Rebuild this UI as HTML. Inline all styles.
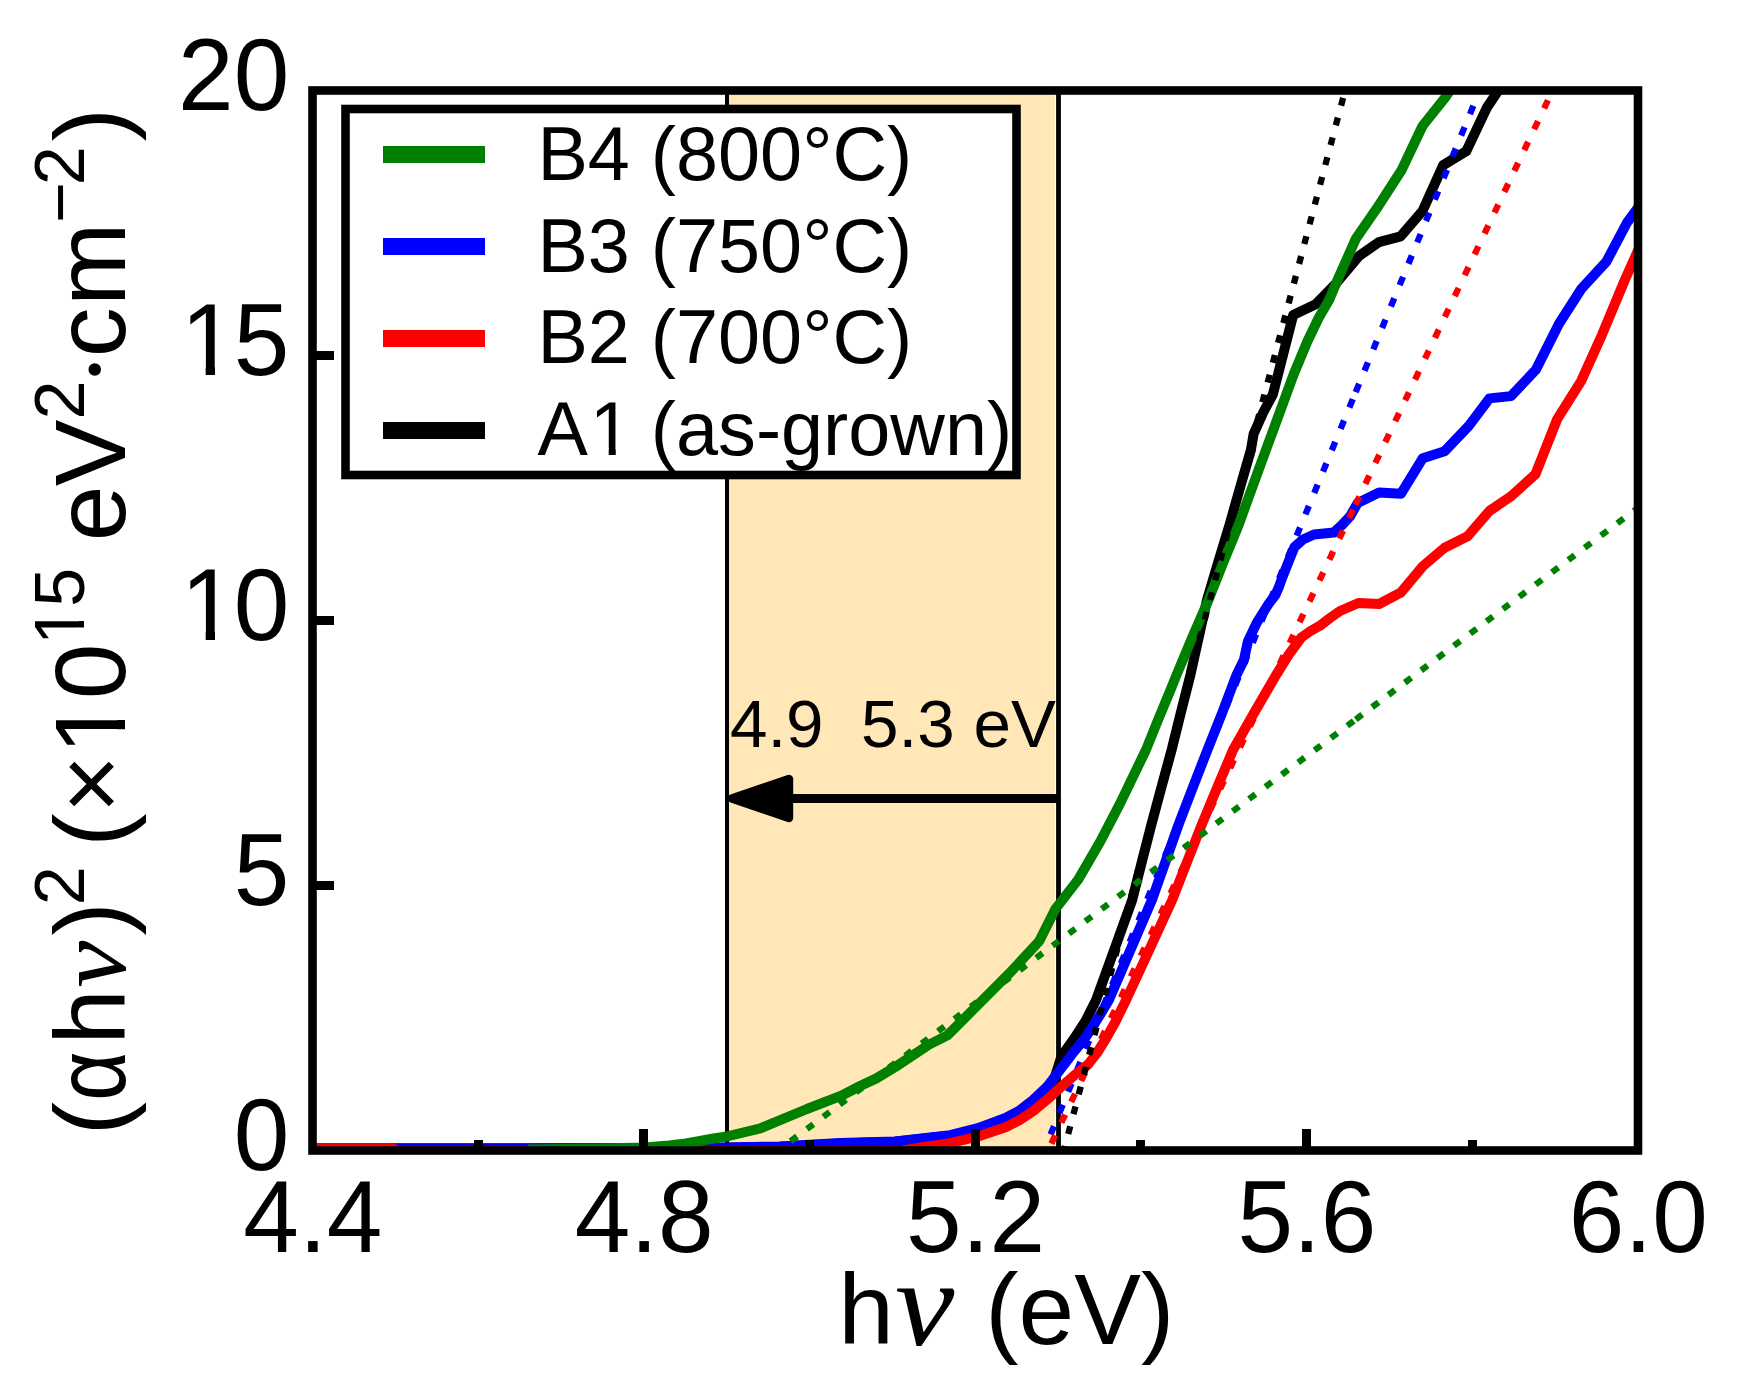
<!DOCTYPE html>
<html lang="en"><head><meta charset="utf-8"><title>Tauc plot</title>
<style>html,body{margin:0;padding:0;background:#fff}svg{display:block}text{font-family:"Liberation Sans",sans-serif;fill:#000;font-kerning:none;white-space:pre}.nu{font-family:"Liberation Serif",serif;font-style:italic}.dot{font-family:"Liberation Serif",serif}</style></head><body>
<svg width="1740" height="1400" viewBox="0 0 1740 1400">
<rect x="0" y="0" width="1740" height="1400" fill="#fff"/>
<defs><clipPath id="ax"><rect x="312.5" y="90.5" width="1325.5" height="1060.0"/></clipPath></defs>
<g clip-path="url(#ax)">
<rect x="727.0" y="90.5" width="327.79999999999995" height="1060.0" fill="#ffe7b7"/>
<rect x="725.0" y="90.5" width="4" height="1060.0" fill="#000" shape-rendering="crispEdges"/>
<rect x="1056.1" y="90.5" width="4.8" height="1060.0" fill="#000"/>
<path d="M312.0 1148.6L700.0 1148.3L780.0 1146.8L840.0 1143.5L895.0 1141.8L950.3 1135.6L977.9 1129.0L1005.5 1119.5L1019.3 1113.2L1033.1 1103.5L1046.9 1089.5L1054.0 1080.0L1061.4 1056.5L1075.2 1037.0L1085.5 1021.0L1096.1 1000.0L1114.2 950.0L1132.2 900.0L1141.8 862.0L1151.3 825.0L1161.5 787.0L1171.6 750.0L1181.0 712.0L1190.4 675.0L1198.8 637.0L1207.0 600.0L1218.3 562.0L1229.5 525.0L1240.2 487.0L1250.9 450.0L1253.6 434.0L1263.2 412.5L1272.9 394.3L1283.5 353.0L1293.2 315.0L1315.7 304.3L1335.0 284.6L1358.8 256.2L1378.9 242.1L1400.7 236.3L1422.5 211.0L1443.2 165.1L1466.2 151.3L1486.9 107.6L1500.0 88.0" fill="none" stroke="#000000" stroke-width="10.0" stroke-linejoin="round" stroke-linecap="butt"/>
<path d="M312.0 1148.3L700.0 1148.0L780.0 1146.5L840.0 1143.1L895.0 1141.4L950.3 1135.1L977.9 1128.2L1005.5 1117.9L1019.3 1110.7L1033.1 1100.0L1046.9 1087.0L1060.7 1069.0L1074.5 1051.0L1085.5 1037.5L1095.0 1023.0L1103.0 1010.0L1108.9 1000.0L1130.4 950.0L1151.9 900.0L1165.0 863.0L1178.4 825.0L1193.0 787.0L1207.4 750.0L1222.5 712.0L1236.5 675.0L1243.9 660.0L1247.9 641.4L1256.7 622.9L1268.3 604.3L1275.4 595.0L1279.4 585.7L1282.7 576.4L1286.4 567.1L1290.1 557.9L1294.5 547.0L1303.0 539.5L1314.0 534.5L1333.9 532.5L1342.0 525.0L1350.0 516.4L1357.7 502.9L1379.1 492.6L1400.9 493.8L1422.8 458.2L1444.6 451.3L1468.7 426.0L1489.4 398.4L1511.0 396.1L1536.0 369.6L1559.0 323.7L1581.1 289.2L1606.4 261.6L1627.1 222.5L1640.0 205.0" fill="none" stroke="#0000ff" stroke-width="10.0" stroke-linejoin="round" stroke-linecap="butt"/>
<path d="M1033.0 1177.3L1355.4 392.8" fill="none" stroke="#0000ff" stroke-width="6.3" stroke-dasharray="9.0 14.12"/>
<path d="M1355.7 392.1L1500.0 40.9" fill="none" stroke="#0000ff" stroke-width="6.3" stroke-dasharray="9.0 14.12"/>
<path d="M312.0 1148.3L393.0 1148.3L396.0 1151.0L900.0 1151.0L922.8 1147.2L950.3 1143.1L977.9 1136.5L1005.5 1127.2L1019.3 1120.3L1033.1 1111.1L1046.9 1099.7L1060.7 1087.2L1074.5 1075.2L1088.0 1064.5L1097.0 1053.0L1106.0 1038.5L1115.0 1022.5L1126.1 1000.0L1140.0 970.0L1153.8 940.0L1172.2 900.0L1187.0 862.0L1201.6 825.0L1217.0 788.0L1233.0 750.0L1254.0 713.0L1276.1 675.0L1288.5 655.0L1301.3 637.5L1310.5 631.0L1320.0 625.7L1330.0 618.0L1340.0 611.0L1358.4 603.0L1379.1 604.0L1400.9 592.5L1422.8 566.2L1444.6 547.8L1467.6 536.3L1489.4 511.0L1511.3 496.1L1535.4 474.3L1557.2 419.1L1581.1 381.1L1601.8 335.2L1624.8 280.0L1640.0 246.0" fill="none" stroke="#ff0000" stroke-width="10.0" stroke-linejoin="round" stroke-linecap="butt"/>
<path d="M1031.5 1185.3L1355.4 504.8" fill="none" stroke="#ff0000" stroke-width="6.3" stroke-dasharray="9.0 14.10"/>
<path d="M1355.5 504.7L1570.0 53.9" fill="none" stroke="#ff0000" stroke-width="6.3" stroke-dasharray="9.0 14.10"/>
<path d="M528.0 1149.5L600.0 1148.5L644.8 1147.5L669.0 1145.5L686.0 1143.5L700.0 1141.0L712.0 1138.7L726.7 1136.5L760.3 1128.3L806.9 1109.0L841.4 1095.7L860.0 1086.0L875.9 1078.6L895.2 1067.0L929.0 1044.6L947.4 1035.4L975.0 1007.8L1009.4 973.3L1039.3 941.1L1055.4 909.0L1078.4 879.3L1100.0 842.0L1120.0 803.6L1145.9 750.0L1158.0 720.0L1170.0 691.1L1176.5 675.0L1192.0 638.0L1208.5 600.0L1223.5 562.0L1238.6 525.0L1252.0 488.0L1265.9 450.0L1279.5 413.0L1293.4 375.0L1307.1 342.0L1318.6 318.0L1329.1 300.0L1337.5 280.0L1355.9 238.6L1376.6 208.7L1401.8 169.7L1422.5 126.0L1445.5 97.2L1453.0 86.0" fill="none" stroke="#008000" stroke-width="10.0" stroke-linejoin="round" stroke-linecap="butt"/>
<path d="M774.2 1153.4L1355.4 719.7" fill="none" stroke="#008000" stroke-width="6.3" stroke-dasharray="8.0 12.43"/>
<path d="M1355.8 719.4L1645.0 502.5" fill="none" stroke="#008000" stroke-width="6.3" stroke-dasharray="8.0 12.43"/>
<path d="M1057.7 1173.5L1350.0 72.0" fill="none" stroke="#000000" stroke-width="6.3" stroke-dasharray="8.0 12.46"/>
</g>
<rect x="760" y="794.0" width="298" height="9" fill="#000" shape-rendering="crispEdges"/>
<path d="M731.8 798.5L789 778.9L789 818.1Z" fill="#000" stroke="#000" stroke-width="8.4" stroke-linejoin="round"/>
<text transform="translate(729.90 747.00)" font-size="67.4">4.9  5.3 eV</text>
<g fill="#000" shape-rendering="crispEdges">
<rect x="639.4" y="1129.0" width="9" height="21.5"/>
<rect x="970.7" y="1129.0" width="9" height="21.5"/>
<rect x="1302.1" y="1129.0" width="9" height="21.5"/>
<rect x="473.7" y="1139.9" width="9" height="10.6"/>
<rect x="805.1" y="1139.9" width="9" height="10.6"/>
<rect x="1136.4" y="1139.9" width="9" height="10.6"/>
<rect x="1467.8" y="1139.9" width="9" height="10.6"/>
<rect x="312.5" y="881.0" width="21.5" height="9"/>
<rect x="312.5" y="616.0" width="21.5" height="9"/>
<rect x="312.5" y="351.0" width="21.5" height="9"/>
</g>
<rect x="312.5" y="90.5" width="1325.5" height="1060.0" fill="none" stroke="#000" stroke-width="8.6" stroke-linejoin="miter"/>
<rect x="345.5" y="109.0" width="671.0" height="366.0" fill="#fff" stroke="#000" stroke-width="8.6"/>
<rect x="383" y="146.0" width="102" height="17" fill="#008000" shape-rendering="crispEdges"/>
<text transform="translate(537.40 180.00)" font-size="75.6">B4 (800°C)</text>
<rect x="383" y="238.0" width="102" height="17" fill="#0000ff" shape-rendering="crispEdges"/>
<text transform="translate(537.40 272.00)" font-size="75.6">B3 (750°C)</text>
<rect x="383" y="329.5" width="102" height="17" fill="#ff0000" shape-rendering="crispEdges"/>
<text transform="translate(537.40 363.30)" font-size="75.6">B2 (700°C)</text>
<rect x="383" y="421.5" width="102" height="17" fill="#000000" shape-rendering="crispEdges"/>
<clipPath id="k1"><path clip-rule="evenodd" d="M-22.7 -83.2H497.4V37.8H-22.7ZM57.00 -6.65H71.29V2.27H57.00ZM78.36 -6.65H92.16V2.27H78.36Z"/></clipPath><text transform="translate(537.40 454.50)" font-size="75.6" clip-path="url(#k1)">A<tspan x="52.47">1</tspan><tspan x="92.47"> (as-grown)</tspan></text>
<text transform="translate(243.29 1251.80) scale(1.0 1.025)" font-size="100">4.4</text>
<text transform="translate(574.67 1251.80) scale(1.0 1.025)" font-size="100">4.8</text>
<text transform="translate(906.04 1251.80) scale(1.0 1.025)" font-size="100">5.2</text>
<text transform="translate(1237.42 1251.80) scale(1.0 1.025)" font-size="100">5.6</text>
<text transform="translate(1568.79 1251.80) scale(1.0 1.025)" font-size="100">6.0</text>
<text transform="translate(233.68 1170.10) scale(1.0 1.025)" font-size="100">0</text>
<text transform="translate(233.68 905.10) scale(1.0 1.025)" font-size="100">5</text>
<clipPath id="k2"><path clip-rule="evenodd" d="M-30.0 -110.0H141.2V50.0H-30.0ZM8.70 -8.80H27.60V3.00H8.70ZM36.95 -8.80H55.20V3.00H36.95Z"/></clipPath><text transform="translate(178.07 640.10) scale(1.0 1.025)" font-size="100" clip-path="url(#k2)"><tspan x="2.70">1</tspan><tspan x="55.62">0</tspan></text>
<clipPath id="k3"><path clip-rule="evenodd" d="M-30.0 -110.0H141.2V50.0H-30.0ZM8.70 -8.80H27.60V3.00H8.70ZM36.95 -8.80H55.20V3.00H36.95Z"/></clipPath><text transform="translate(178.07 375.10) scale(1.0 1.025)" font-size="100" clip-path="url(#k3)"><tspan x="2.70">1</tspan><tspan x="55.62">5</tspan></text>
<text transform="translate(178.07 110.10) scale(1.0 1.025)" font-size="100">20</text>
<text x="838.3" y="1344" font-size="100">h<tspan class="nu" x="895.0" y="1345.1" font-size="122.2" textLength="59.3" lengthAdjust="spacingAndGlyphs">ν</tspan><tspan> </tspan><tspan x="985.3" y="1344">(eV)</tspan></text>
<clipPath id="k4"><path clip-rule="evenodd" d="M-1300.0 -20.0H0.0V260.0H-1300.0ZM-748.22 115.90H-729.32V127.70H-748.22ZM-719.97 115.90H-701.72V127.70H-719.97ZM-640.83 77.84H-627.60V86.10H-640.83ZM-621.06 77.84H-608.28V86.10H-621.06Z"/></clipPath>
<text transform="rotate(-90)" font-size="100" clip-path="url(#k4)"><tspan x="-1135.30" y="124.70">(</tspan><tspan x="-1100.69" y="124.70" textLength="49.46" lengthAdjust="spacingAndGlyphs">α</tspan><tspan x="-1044.63" y="124.70">h</tspan><tspan class="nu" x="-987.75" y="125.30" textLength="47.05" lengthAdjust="spacingAndGlyphs">ν</tspan><tspan x="-935.49" y="124.70">)</tspan><tspan x="-905.22" y="84.00" font-size="70">2</tspan><tspan> </tspan><tspan x="-846.80" y="124.70">(</tspan><tspan x="-813.23" y="124.70">×</tspan><tspan x="-754.22" y="124.70">1</tspan><tspan x="-699.31" y="124.70">0</tspan><tspan x="-645.03" y="84.00" font-size="70">1</tspan><tspan x="-606.80" y="84.00" font-size="70">5</tspan><tspan> </tspan><tspan x="-541.35" y="124.70">e</tspan><tspan x="-486.14" y="124.70">V</tspan><tspan x="-419.52" y="84.00" font-size="70">2</tspan><tspan class="dot" x="-387.35" y="129.60" font-size="106.6">·</tspan><tspan x="-357.35" y="124.70">c</tspan><tspan x="-306.04" y="124.70">m</tspan><tspan x="-222.85" y="84.00" font-size="70">−</tspan><tspan x="-185.22" y="84.00" font-size="70">2</tspan><tspan x="-141.19" y="124.70">)</tspan></text>
</svg></body></html>
